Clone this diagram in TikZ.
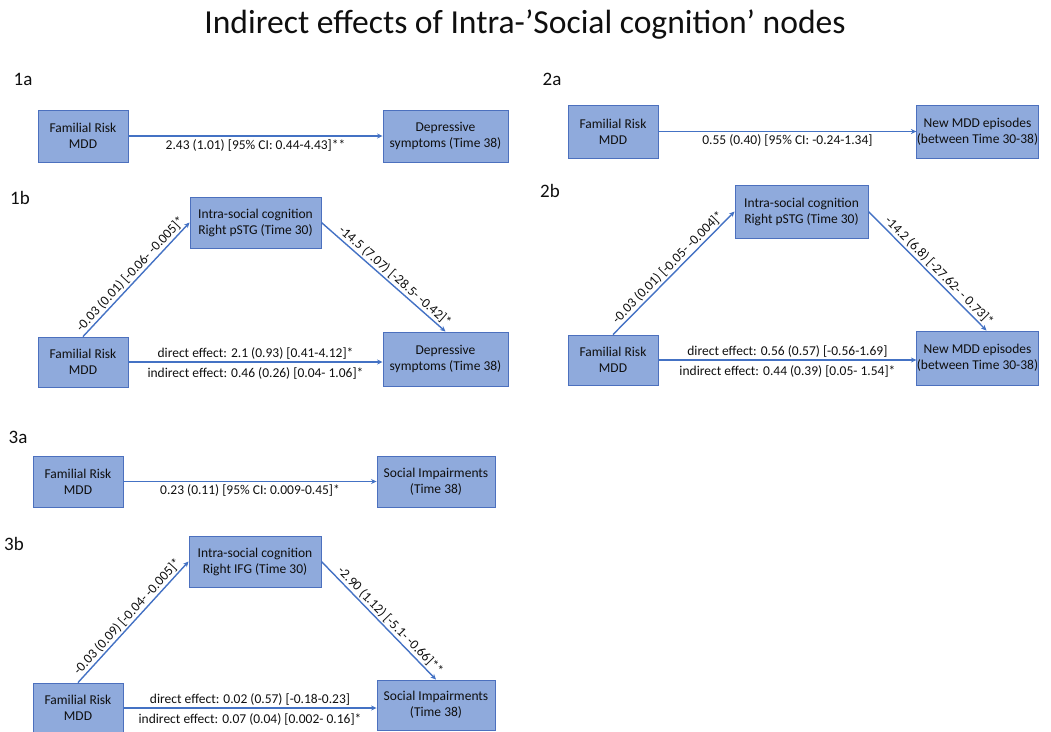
\documentclass[tikz,border=0pt]{standalone}
\usepackage{fontspec}
\setmainfont{Carlito}
\usetikzlibrary{arrows.meta}
\definecolor{boxfill}{RGB}{143,170,220}
\definecolor{boxborder}{RGB}{76,112,190}
\definecolor{arrowblue}{RGB}{68,114,196}
\definecolor{txt}{RGB}{15,15,15}
\begin{document}
\begin{tikzpicture}[x=1pt,y=-1pt,
  box/.style={draw=boxborder, fill=boxfill, line width=0.9pt, inner sep=0pt,
    align=center, text=txt, font=\fontsize{13.5}{16}\selectfont},
  conn/.style={draw=arrowblue, line width=1.4pt, -{Stealth[length=5.5pt,width=5pt]}},
  lbl/.style={text=txt, font=\fontsize{13.5}{16}\selectfont, inner sep=1.5pt},
  lblb/.style={lbl, below, inner sep=1.5pt, yshift=-3pt},
  panel/.style={text=txt, font=\fontsize{19}{22}\selectfont, inner sep=0pt},
  ttl/.style={text=txt, font=\fontsize{33.6}{38}\selectfont, inner sep=0pt}]
\useasboundingbox (0,0) rectangle (1051,731);
\clip (0,0) rectangle (1051,731);

\node[ttl] (title) at (525,25) {Indirect effects of Intra-’Social cognition’ nodes};

% ---------- 1a ----------
\node[panel] (p1a) at (23,79) {1a};
\node[box, minimum width=90, minimum height=52] (L1a) at (83,136) {Familial Risk\\MDD};
\node[box, minimum width=125, minimum height=52] (R1a) at (445.5,136) {Depressive\\symptoms (Time 38)};
\draw[conn] (L1a) -- node[lbl, below, midway, yshift=-1pt] {2.43 (1.01) [95\% CI: 0.44-4.43]**} (R1a);

% ---------- 1b ----------
\node[panel] (p1b) at (20,198) {1b};
\node[box, minimum width=131, minimum height=51] (M1b) at (255.5,222.5) {Intra-social cognition\\Right pSTG (Time 30)};
\node[box, minimum width=90, minimum height=50] (L1b) at (83,362) {Familial Risk\\MDD};
\node[box, minimum width=125, minimum height=54] (R1b) at (445.5,359) {Depressive\\symptoms (Time 38)};
\draw[conn] (L1b.north) -- node[lbl, above, sloped, midway] {-0.03 (0.01) [-0.06- -0.005]*} (M1b.west);
\draw[conn] (M1b.east) -- node[lbl, above, sloped, pos=0.55] {-14.5 (7.07) [-28.5- -0.42]*} (R1b.north);
\draw[conn] (L1b.east) -- node[lbl, above, midway] {direct effect: 2.1 (0.93) [0.41-4.12]*}
  node[lblb, midway] {indirect effect: 0.46 (0.26) [0.04- 1.06]*} (R1b.west |- L1b.east);

% ---------- 2a ----------
\node[panel] (p2a) at (552,79) {2a};
\node[box, minimum width=90, minimum height=53] (L2a) at (613,131.5) {Familial Risk\\MDD};
\node[box, minimum width=121, minimum height=53] (R2a) at (977.5,131.5) {New MDD episodes\\(between Time 30-38)};
\draw[conn] (L2a) -- node[lbl, below, midway, yshift=-1pt] {0.55 (0.40) [95\% CI: -0.24-1.34]} (R2a);

% ---------- 2b ----------
\node[panel] (p2b) at (550,191) {2b};
\node[box, minimum width=133, minimum height=53] (M2b) at (801.5,211.5) {Intra-social cognition\\Right pSTG (Time 30)};
\node[box, minimum width=90, minimum height=50] (L2b) at (613,360) {Familial Risk\\MDD};
\node[box, minimum width=121, minimum height=54] (R2b) at (977.5,358) {New MDD episodes\\(between Time 30-38)};
\coordinate (R2bTop) at ([xshift=9pt]R2b.north);
\draw[conn] (L2b.north) -- node[lbl, above, sloped, midway] {-0.03 (0.01) [-0.05- -0.004]*} (M2b.west);
\draw[conn] (M2b.east) -- node[lbl, above, sloped, pos=0.55] {-14.2 (6.8) [-27.62- - 0.73]*} (R2bTop);
\draw[conn] (L2b.east) -- node[lbl, above, midway] {direct effect: 0.56 (0.57) [-0.56-1.69]}
  node[lblb, midway] {indirect effect: 0.44 (0.39) [0.05- 1.54]*} (R2b.west |- L2b.east);

% ---------- 3a ----------
\node[panel] (p3a) at (18,437) {3a};
\node[box, minimum width=90, minimum height=51] (L3a) at (78,481.5) {Familial Risk\\MDD};
\node[box, minimum width=118, minimum height=51] (R3a) at (436,481.5) {Social Impairments\\(Time 38)};
\draw[conn] (L3a) -- node[lbl, below, midway, yshift=-1pt] {0.23 (0.11) [95\% CI: 0.009-0.45]*} (R3a);

% ---------- 3b ----------
\node[panel] (p3b) at (14,544) {3b};
\node[box, minimum width=132, minimum height=51] (M3b) at (255,561.5) {Intra-social cognition\\Right IFG (Time 30)};
\node[box, minimum width=90, minimum height=50] (L3b) at (78,708) {Familial Risk\\MDD};
\node[box, minimum width=118, minimum height=50] (R3b) at (436,705) {Social Impairments\\(Time 38)};
\draw[conn] (L3b.north) -- node[lbl, above, sloped, midway] {-0.03 (0.09) [-0.04- -0.005]*} (M3b.west);
\draw[conn] (M3b.east) -- node[lbl, above, sloped, pos=0.55] {-2.90 (1.12) [-5.1- -0.66]**} (R3b.north);
\draw[conn] (L3b.east) -- node[lbl, above, midway] {direct effect: 0.02 (0.57) [-0.18-0.23]}
  node[lblb, midway] {indirect effect: 0.07 (0.04) [0.002- 0.16]*} (R3b.west |- L3b.east);
\end{tikzpicture}
\end{document}
